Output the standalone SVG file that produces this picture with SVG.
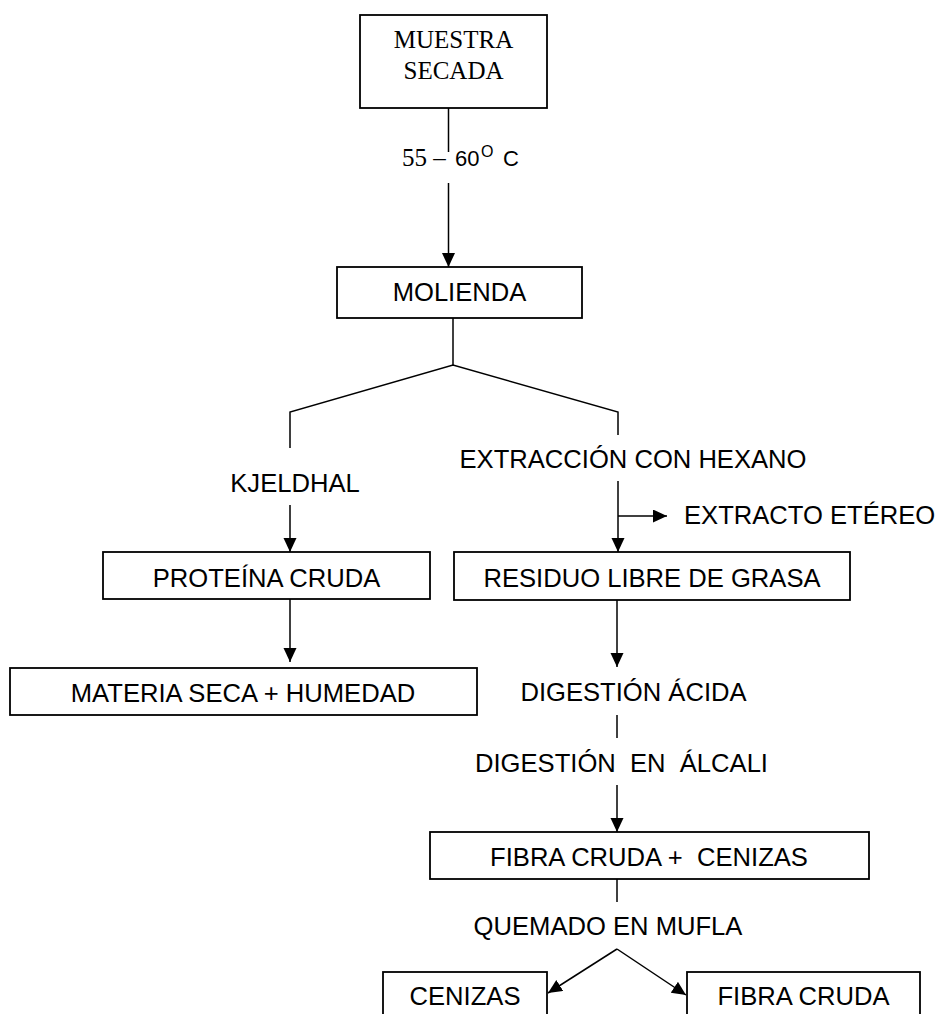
<svg xmlns="http://www.w3.org/2000/svg" width="940" height="1014" viewBox="0 0 940 1014">
<style>
.box{fill:#fff;stroke:#000;stroke-width:1.8}
.ln{fill:none;stroke:#000;stroke-width:1.5}
.t{font-family:"Liberation Sans",Arial,sans-serif;font-size:25.6px;fill:#000;text-anchor:middle}
.s{font-family:"Liberation Serif","Times New Roman",serif;font-size:25px;fill:#000}
</style>
<defs>
<marker id="ah" markerUnits="userSpaceOnUse" markerWidth="15" markerHeight="14" refX="14" refY="6.5" orient="auto">
<path d="M0,0 L14,6.5 L0,13 z" fill="#000"/>
</marker>
</defs>
<rect width="940" height="1014" fill="#fff"/>
<g id="connectors">
<line class="ln" x1="448.5" y1="108" x2="448.5" y2="152"/>
<line class="ln" x1="448.5" y1="183" x2="448.5" y2="267" marker-end="url(#ah)"/>
<line class="ln" x1="453" y1="318" x2="453" y2="365"/>
<polyline class="ln" points="290,448 290,412 453,365 618,412 618,435"/>
<line class="ln" x1="290" y1="505" x2="290" y2="552" marker-end="url(#ah)"/>
<line class="ln" x1="618" y1="481" x2="618" y2="552" marker-end="url(#ah)"/>
<line class="ln" x1="618" y1="516" x2="667" y2="516" marker-end="url(#ah)"/>
<line class="ln" x1="290" y1="599" x2="290" y2="662" marker-end="url(#ah)"/>
<line class="ln" x1="617" y1="600" x2="617" y2="667" marker-end="url(#ah)"/>
<line class="ln" x1="617" y1="715" x2="617" y2="738"/>
<line class="ln" x1="617" y1="785" x2="617" y2="832" marker-end="url(#ah)"/>
<line class="ln" x1="617" y1="879" x2="617" y2="902"/>
<line class="ln" x1="617" y1="949" x2="548" y2="993" marker-end="url(#ah)"/>
<line class="ln" x1="617" y1="949" x2="686" y2="995" marker-end="url(#ah)"/>
</g>
<g id="n-muestra">
<rect class="box" x="360" y="15" width="187" height="93"/>
<text class="s" x="453.5" y="48" text-anchor="middle">MUESTRA</text>
<text class="s" x="453.5" y="79" text-anchor="middle">SECADA</text>
</g>
<g id="l-temp">
<text class="s" x="402" y="166">55 –</text>
<text class="t" x="455" y="166" style="text-anchor:start;font-size:22px">60</text>
<text class="t" x="481" y="157" style="text-anchor:start;font-size:16px">O</text>
<text class="t" x="503" y="166" style="text-anchor:start;font-size:22px">C</text>
</g>
<g id="n-molienda">
<rect class="box" x="337" y="267" width="245" height="51"/>
<text class="t" x="459.5" y="301">MOLIENDA</text>
</g>
<g id="l-kjeldhal"><text class="t" x="295" y="492">KJELDHAL</text></g>
<g id="l-extraccion"><text class="t" x="633" y="468">EXTRACCIÓN CON HEXANO</text></g>
<g id="n-extracto"><text class="t" x="684" y="524" style="text-anchor:start">EXTRACTO ETÉREO</text></g>
<g id="n-proteina">
<rect class="box" x="103" y="552" width="327" height="47"/>
<text class="t" x="266.5" y="587">PROTEÍNA CRUDA</text>
</g>
<g id="n-residuo">
<rect class="box" x="454" y="552" width="396" height="48"/>
<text class="t" x="652" y="587">RESIDUO LIBRE DE GRASA</text>
</g>
<g id="n-materia">
<rect class="box" x="10" y="668" width="467" height="47"/>
<text class="t" x="243" y="702">MATERIA SECA + HUMEDAD</text>
</g>
<g id="l-acida"><text class="t" x="633.5" y="701">DIGESTIÓN ÁCIDA</text></g>
<g id="l-alcali"><text class="t" x="621.5" y="772" xml:space="preserve">DIGESTIÓN  EN  ÁLCALI</text></g>
<g id="n-fibra-cenizas">
<rect class="box" x="430" y="832" width="439" height="47"/>
<text class="t" x="649" y="866" xml:space="preserve">FIBRA CRUDA +  CENIZAS</text>
</g>
<g id="l-quemado"><text class="t" x="608" y="935">QUEMADO EN MUFLA</text></g>
<g id="n-cenizas">
<rect class="box" x="383" y="972" width="164" height="60"/>
<text class="t" x="465" y="1005">CENIZAS</text>
</g>
<g id="n-fibra">
<rect class="box" x="687" y="972" width="233" height="60"/>
<text class="t" x="803.5" y="1005">FIBRA CRUDA</text>
</g>
</svg>
